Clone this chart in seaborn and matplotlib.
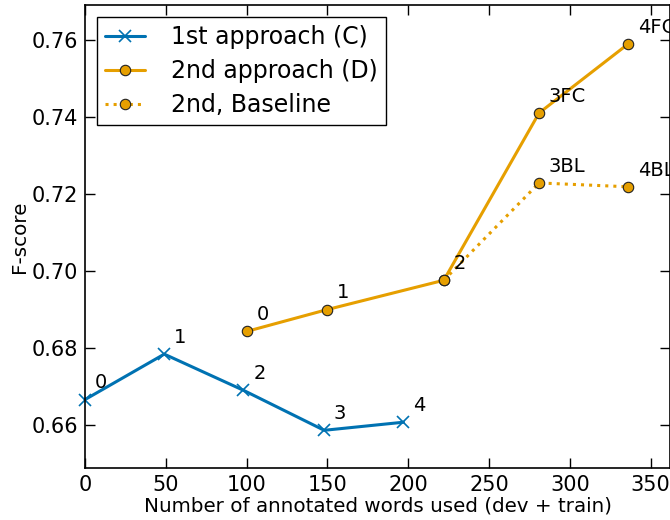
import pandas as pd
import matplotlib
matplotlib.use('Agg')
import matplotlib.pyplot as plt
import seaborn as sns

# data
words_c = [0, 49, 98, 148, 197]
fscore_c = [0.6666, 0.6784, 0.6690, 0.6586, 0.6607]
labels_c = ['0', '1', '2', '3', '4']

words_d = [100, 150, 222, 281, 336]
fscore_d = [0.6843, 0.6900, 0.6976, 0.7411, 0.7590]
labels_d = ['0', '1', '2', '3FC', '4FC']

words_bl = [222, 281, 336]
fscore_bl = [0.6976, 0.7229, 0.7219]
labels_bl = ['', '3BL', '4BL']

blue = '#0072B2'
orange = '#E69F00'

sns.set_style('ticks')
plt.rcParams['font.family'] = ['DejaVu Sans']
plt.rcParams['xtick.direction'] = 'in'
plt.rcParams['ytick.direction'] = 'in'
plt.rcParams['text.color'] = 'black'
plt.rcParams['axes.labelcolor'] = 'black'
plt.rcParams['xtick.color'] = 'black'
plt.rcParams['ytick.color'] = 'black'

fig = plt.figure(figsize=(6.7, 5.2), dpi=100)
ax = fig.add_axes([0.127, 0.1, 0.873, 0.89])

df_c = pd.DataFrame({'x': words_c, 'y': fscore_c})
df_d = pd.DataFrame({'x': words_d, 'y': fscore_d})
df_bl = pd.DataFrame({'x': words_bl, 'y': fscore_bl})

sns.lineplot(data=df_c, x='x', y='y', ax=ax, color=blue, linewidth=2.2,
             marker='x', markersize=8, markeredgewidth=1.2, markeredgecolor=blue,
             label='1st approach (C)', clip_on=False)
sns.lineplot(data=df_d, x='x', y='y', ax=ax, color=orange, linewidth=2.2,
             marker='o', markersize=7.5, markeredgecolor='#222222', markeredgewidth=0.8,
             label='2nd approach (D)')
sns.lineplot(data=df_bl, x='x', y='y', ax=ax, color=orange, linewidth=2.2,
             linestyle=':', marker='o', markersize=7.5, markeredgecolor='#222222',
             markeredgewidth=0.8, label='2nd, Baseline')

for xs, ys, labs in [(words_c, fscore_c, labels_c), (words_d, fscore_d, labels_d),
                     (words_bl, fscore_bl, labels_bl)]:
    for x, y, t in zip(xs, ys, labs):
        if t:
            ax.annotate(t, (x, y), xytext=(7, 8), textcoords='offset points',
                        fontsize=14, annotation_clip=False)

ax.set_xlim(0, 362)
ax.set_ylim(0.6488, 0.7691)
ax.set_xticks([0, 50, 100, 150, 200, 250, 300, 350])
ax.set_yticks([0.66, 0.68, 0.70, 0.72, 0.74, 0.76])
ax.yaxis.set_major_formatter('{x:.2f}')
ax.tick_params(top=True, right=True, length=7, width=1, labelsize=15, pad=5)
for s in ax.spines.values():
    s.set_visible(True)
    s.set_color('black')
    s.set_linewidth(1.2)

ax.set_xlabel('Number of annotated words used (dev + train)', fontsize=14.3, labelpad=1)
ax.set_ylabel('F-score', fontsize=14.3, labelpad=2)

leg = ax.legend(loc='upper left', fontsize=17, handlelength=1.7, handletextpad=1.1,
                frameon=True, fancybox=False, borderaxespad=0.5, borderpad=0.35,
                labelspacing=0.42)
leg.get_frame().set_edgecolor('black')
leg.get_frame().set_linewidth(1.0)
leg.get_frame().set_alpha(1)

fig.savefig('out.png', dpi=100)
